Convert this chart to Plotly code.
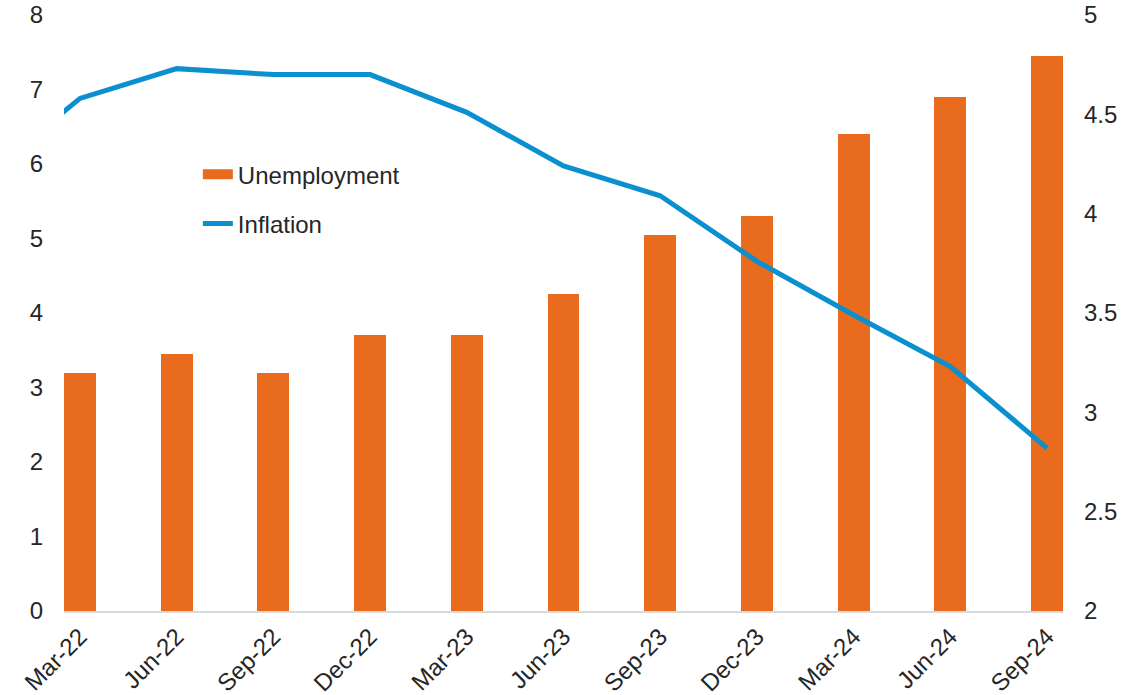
import plotly.graph_objects as go

quarters = ["Mar-22", "Jun-22", "Sep-22", "Dec-22", "Mar-23", "Jun-23",
            "Sep-23", "Dec-23", "Mar-24", "Jun-24", "Sep-24"]
unemployment = [3.2, 3.45, 3.2, 3.7, 3.7, 4.25, 5.05, 5.3, 6.4, 6.9, 7.45]
# inflation includes the preceding quarter (Dec-21), clipped at the left edge
inflation_quarters = ["Dec-21"] + quarters
inflation = [4.18, 4.58, 4.73, 4.70, 4.70, 4.51, 4.24, 4.09, 3.76, 3.49, 3.23, 2.82]

ORANGE = "#E96B1E"
BLUE = "#0A8FCF"
TEXT = "#262626"
FS = 24

x_bar = list(range(len(quarters)))
x_line = [i - 1 for i in range(len(inflation_quarters))]

fig = go.Figure()
fig.add_trace(go.Bar(x=x_bar, y=unemployment, marker=dict(color=ORANGE, line=dict(width=0)),
                     width=0.33, name="Unemployment", showlegend=False, yaxis="y"))
fig.add_trace(go.Scatter(x=[None], y=[None], mode="lines", name="Unemployment",
                         line=dict(color=ORANGE, width=12), legendgroup="a", yaxis="y"))
fig.add_trace(go.Scatter(x=x_line, y=inflation, mode="lines", name="Inflation",
                         line=dict(color=BLUE, width=5), legendgroup="b", yaxis="y2",
                         cliponaxis=True))

fig.update_layout(
    width=1142, height=695,
    margin=dict(l=64, r=79, t=15, b=84, autoexpand=False),
    paper_bgcolor="white", plot_bgcolor="white",
    font=dict(family="Liberation Sans, Arial, sans-serif", size=FS, color=TEXT),
    showlegend=True,
    legend=dict(x=0.134, y=0.77, xanchor="left", yanchor="top",
                bgcolor="rgba(0,0,0,0)", font=dict(size=FS, color=TEXT),
                traceorder="grouped", tracegroupgap=15),
    xaxis=dict(range=[-0.165, 10.165], tickmode="array", tickvals=x_bar, ticktext=quarters,
               tickangle=-45, showgrid=False, zeroline=False, showline=True, automargin=False,
               linecolor="#D9D9D9", linewidth=2, ticks="", tickfont=dict(size=FS, color=TEXT)),
    yaxis=dict(range=[0, 8], dtick=1, showgrid=False, zeroline=False, showline=False,
               automargin=False, ticks="", tickfont=dict(size=FS, color=TEXT),
               ticklabelstandoff=20),
    yaxis2=dict(range=[2, 5], dtick=0.5, overlaying="y", side="right", showgrid=False,
                zeroline=False, showline=False, automargin=False, ticks="",
                tickfont=dict(size=FS, color=TEXT), ticklabelstandoff=20),
    bargap=0,
)

fig.write_html("out.html", config={"displayModeBar": False},
               post_script="document.body.style.margin='0';")
